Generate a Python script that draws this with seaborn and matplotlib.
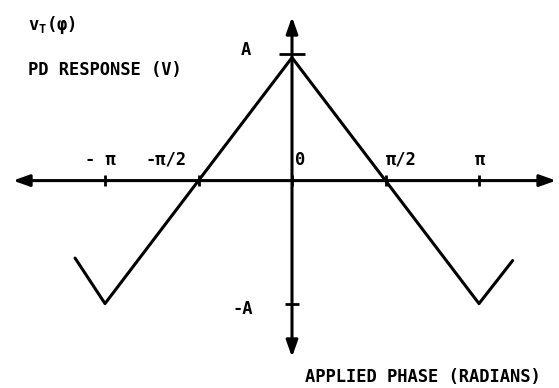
import numpy as np
import matplotlib
matplotlib.use('Agg')
import matplotlib.pyplot as plt
import seaborn as sns
import pandas as pd

# -------------------------
# Data (phase in units of pi, response in units of A)
# -------------------------
phase_pi = [-1.16, -1.0, 0.0, 1.0, 1.18]
response = [-0.63, -1.0, 1.0, -1.0, -0.65]

xtick_pi = [-1.0, -0.5, 0.0, 0.5, 1.0]
xtick_labels = ["- π", "-π/2", "0", "π/2", "π"]
ytick_vals = [1.0, -1.0]
ytick_labels = ["A", "-A"]

PI = np.pi

# -------------------------
# Layout
# -------------------------
XLIM = (-292 / 187 * PI, (559 - 292) / 187 * PI)
YLIM = (-(388 - 180.6) / 123, 180.6 / 123)
XAXIS_SPAN = (-1.492 * PI, 1.412 * PI)
YAXIS_SPAN = (-1.434, 1.33)
xlabel_pos = [-1.027, -0.674, 0.043, 0.583, 1.005]
ylabel_pos = [(-0.246, 1.06), (-0.262, -1.04)]
ytick_half = [0.07, 0.037]
FS = 12.3

sns.set_style("white")
plt.rcParams['font.family'] = ['DejaVu Sans Mono', 'DejaVu Sans']
plt.rcParams['text.color'] = 'black'

fig = plt.figure(figsize=(5.59, 3.88), dpi=100)
ax = fig.add_axes([0, 0, 1, 1])

df = pd.DataFrame({"phase": np.array(phase_pi) * PI, "response": response})
sns.lineplot(data=df, x="phase", y="response", ax=ax, color="black",
             linewidth=2.2, sort=False, estimator=None)

# axes with arrows
arrow = dict(arrowstyle="<|-|>,head_length=0.7,head_width=0.25", color="black",
             lw=2.2, mutation_scale=14, shrinkA=0, shrinkB=0)
ax.annotate("", xy=(XAXIS_SPAN[1], 0), xytext=(XAXIS_SPAN[0], 0), arrowprops=arrow)
ax.annotate("", xy=(0, YAXIS_SPAN[1]), xytext=(0, YAXIS_SPAN[0]), arrowprops=arrow)

# tick marks
ax.vlines(np.array(xtick_pi) * PI, -0.045, 0.045, color="black", lw=2)
for v, h in zip(ytick_vals, ytick_half):
    ax.hlines(v + 0.03 if v > 0 else v, -h * PI, h * PI, color="black", lw=2)

# tick labels
for xp, lab in zip(xlabel_pos, xtick_labels):
    ax.text(xp * PI, 0.17, lab, ha="center", va="center", fontsize=FS,
            fontweight="bold")
for (xp, yp), lab in zip(ylabel_pos, ytick_labels):
    ax.text(xp * PI, yp, lab, ha="center", va="center", fontsize=FS,
            fontweight="bold")

ax.set_xlim(*XLIM)
ax.set_ylim(*YLIM)
ax.axis("off")

fig.text(0.05, 0.935, r"v$_\mathregular{T}$(φ)", ha="left", va="center",
         fontsize=FS, fontweight="bold")
fig.text(0.05, 0.82, "PD RESPONSE (V)", ha="left", va="center",
         fontsize=FS, fontweight="bold")
fig.text(305 / 559, 0.028, "APPLIED PHASE (RADIANS)", ha="left", va="center",
         fontsize=FS, fontweight="bold")

fig.savefig("out.png", dpi=100, facecolor="white")
